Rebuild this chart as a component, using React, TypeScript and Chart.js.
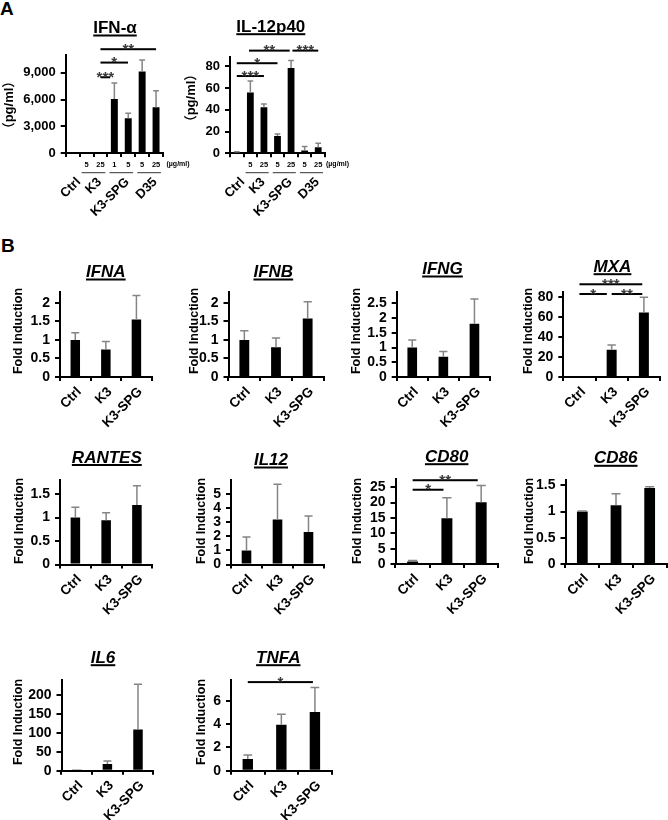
import React, { useEffect, useRef } from 'react';
import { Chart, registerables } from 'chart.js';

Chart.register(...registerables);

const FONT = "'Liberation Sans', Arial, Helvetica, sans-serif";
const CJK_FONT = "'Liberation Sans', 'Noto Sans CJK JP', sans-serif";
Chart.defaults.font.family = FONT;

// ================= DATA =================
type Sig = [number, number, number, string]; // fromIndex, toIndex, yValue, label

// ---- Panel A : IFN-α (pg/ml) ----
const ifnAlphaCategories = ['Ctrl', 'K3 5', 'K3 25', 'K3-SPG 1', 'K3-SPG 5', 'D35 5', 'D35 25'];
const ifnAlphaDoses = ['', '5', '25', '1', '5', '5', '25'];
const ifnAlphaValues = [0, 0, 0, 6050, 3900, 9150, 5130];
const ifnAlphaErrors = [0, 0, 0, 1800, 560, 1300, 1870];
const ifnAlphaTicks = [0, 3000, 6000, 9000];
const ifnAlphaMax = 11000;
const ifnAlphaSig: Sig[] = [[2, 2.7, 8500, '***'], [2, 3.98, 10150, '*'], [2, 6, 11650, '**']];

// ---- Panel A : IL-12p40 (pg/ml) ----
const il12p40Categories = ['Ctrl', 'K3 5', 'K3 25', 'K3-SPG 5', 'K3-SPG 25', 'D35 5', 'D35 25'];
const il12p40Doses = ['', '5', '25', '5', '25', '5', '25'];
const il12p40Values = [1.2, 56, 42.5, 16, 78.5, 2.5, 5.5];
const il12p40Errors = [0.3, 10.5, 3, 1.8, 7, 3.7, 3.7];
const il12p40Ticks = [0, 20, 40, 60, 80];
const il12p40Max = 89;
const il12p40Sig: Sig[] = [[0, 2, 71.2, '***'], [0, 3, 83, '*'], [0.9, 3.9, 94.6, '**'], [4.1, 6, 94.6, '***']];

const groupLabelsA = ['Ctrl', 'K3', 'K3-SPG', 'D35'];
const groupSpansA: [number, number][] = [[0, 0], [1, 2], [3, 4], [5, 6]];

// ---- Panel B : fold induction ----
const categoriesB = ['Ctrl', 'K3', 'K3-SPG'];

const ifnaValues = [1.0, 0.74, 1.55];
const ifnaErrors = [0.19, 0.22, 0.65];
const ifnaTicks = [0, 0.5, 1, 1.5, 2];
const ifnaMax = 2.3;

const ifnbValues = [1.0, 0.8, 1.58];
const ifnbErrors = [0.25, 0.25, 0.45];
const ifnbTicks = [0, 0.5, 1, 1.5, 2];
const ifnbMax = 2.3;

const ifngValues = [1.0, 0.69, 1.81];
const ifngErrors = [0.26, 0.18, 0.84];
const ifngTicks = [0, 0.5, 1, 1.5, 2, 2.5];
const ifngMax = 2.9;

const mxaValues = [1, 27.2, 64.3];
const mxaErrors = [0, 4.8, 15.1];
const mxaTicks = [0, 20, 40, 60, 80];
const mxaMax = 85;
const mxaSig: Sig[] = [[0, 1.95, 92.4, '***'], [0, 0.85, 82.7, '*'], [1, 1.95, 82.7, '**']];

const rantesValues = [1.0, 0.94, 1.27];
const rantesErrors = [0.22, 0.16, 0.41];
const rantesTicks = [0, 0.5, 1, 1.5];
const rantesMax = 1.8;

const il12Values = [1.0, 3.2, 2.3];
const il12Errors = [0.95, 2.5, 1.15];
const il12Ticks = [0, 1, 2, 3, 4, 5];
const il12Max = 6;

const cd80Values = [0.8, 14.9, 20.1];
const cd80Errors = [0.3, 6.7, 5.5];
const cd80Ticks = [0, 5, 10, 15, 20, 25];
const cd80Max = 27.7;
const cd80Sig: Sig[] = [[0, 0.9, 24.2, '*'], [0, 1.9, 27.3, '**']];

const cd86Values = [1.0, 1.12, 1.45];
const cd86Errors = [0.01, 0.22, 0.02];
const cd86Ticks = [0, 0.5, 1, 1.5];
const cd86Max = 1.6;

const il6Values = [1, 17.5, 109];
const il6Errors = [0, 8, 120];
const il6Ticks = [0, 50, 100, 150, 200];
const il6Max = 240;

const tnfaValues = [1.0, 3.95, 5.05];
const tnfaErrors = [0.35, 0.9, 2.1];
const tnfaTicks = [0, 2, 4, 6];
const tnfaMax = 7.8;
const tnfaSig: Sig[] = [[0, 1.94, 7.62, '*']];

// ================= LAYOUT =================
interface Layout {
  left: number; right: number; top: number; bottom: number;
  titleX: number; titleBase: number; yTitleX: number; yTitleY: number;
  canvas: [number, number, number, number];
}

function bLayout(left: number, right: number, top: number, bottom: number, titleX: number, titleBase: number, yTitleX: number, yTitleY: number): Layout {
  return {
    left, right, top, bottom, titleX, titleBase, yTitleX, yTitleY,
    canvas: [Math.max(0, Math.round(left - 62)), Math.round(top - 75), Math.min(668, Math.round(right + 15)), Math.min(820, Math.round(bottom + 62))],
  };
}

interface PanelAExtra {
  doses: string[];
  unitX: number;
}

interface Spec {
  key: string;
  title: string;
  italic: boolean;
  yTitle: string;
  yTitleFont: string;
  labels: string[];
  values: number[];
  errors: number[];
  ticks: number[];
  max: number;
  sig: Sig[];
  barPct: number;
  layout: Layout;
  tickSize: number;
  panelA?: PanelAExtra;
}

const FOLD_FONT = `bold 12.5px ${FONT}`;

const specs: Spec[] = [
  {
    key: 'ifnalpha', title: 'IFN-α', italic: false, yTitle: '（pg/ml）', yTitleFont: `bold 13px ${CJK_FONT}`,
    labels: ifnAlphaCategories, values: ifnAlphaValues, errors: ifnAlphaErrors, ticks: ifnAlphaTicks, max: ifnAlphaMax, sig: ifnAlphaSig,
    barPct: 0.5, tickSize: 13,
    layout: { left: 65.7, right: 163, top: 55, bottom: 153, titleX: 115, titleBase: 33, yTitleX: 9, yTitleY: 105, canvas: [0, 0, 205, 230] },
    panelA: { doses: ifnAlphaDoses, unitX: 166.5 },
  },
  {
    key: 'il12p40', title: 'IL-12p40', italic: false, yTitle: '（pg/ml）', yTitleFont: `bold 13px ${CJK_FONT}`,
    labels: il12p40Categories, values: il12p40Values, errors: il12p40Errors, ticks: il12p40Ticks, max: il12p40Max, sig: il12p40Sig,
    barPct: 0.5, tickSize: 13,
    layout: { left: 230, right: 325, top: 56.7, bottom: 153.3, titleX: 270.8, titleBase: 31.7, yTitleX: 191, yTitleY: 98, canvas: [180, 0, 370, 230] },
    panelA: { doses: il12p40Doses, unitX: 326 },
  },
  { key: 'IFNA', title: 'IFNA', italic: true, yTitle: 'Fold Induction', yTitleFont: FOLD_FONT, labels: categoriesB, values: ifnaValues, errors: ifnaErrors, ticks: ifnaTicks, max: ifnaMax, sig: [], barPct: 0.31, tickSize: 14, layout: bLayout(60, 151.7, 291.7, 377, 105.8, 277, 18.7, 331) },
  { key: 'IFNB', title: 'IFNB', italic: true, yTitle: 'Fold Induction', yTitleFont: FOLD_FONT, labels: categoriesB, values: ifnbValues, errors: ifnbErrors, ticks: ifnbTicks, max: ifnbMax, sig: [], barPct: 0.31, tickSize: 14, layout: bLayout(228.5, 323.5, 291.7, 377, 273.3, 277, 195, 331) },
  { key: 'IFNG', title: 'IFNG', italic: true, yTitle: 'Fold Induction', yTitleFont: FOLD_FONT, labels: categoriesB, values: ifngValues, errors: ifngErrors, ticks: ifngTicks, max: ifngMax, sig: [], barPct: 0.31, tickSize: 14, layout: bLayout(396.7, 490, 291.7, 377, 442.5, 274, 357, 331) },
  { key: 'MXA', title: 'MXA', italic: true, yTitle: 'Fold Induction', yTitleFont: FOLD_FONT, labels: categoriesB, values: mxaValues, errors: mxaErrors, ticks: mxaTicks, max: mxaMax, sig: mxaSig, barPct: 0.31, tickSize: 14, layout: bLayout(563.3, 660, 291.7, 377, 612.5, 271.7, 529, 331) },
  { key: 'RANTES', title: 'RANTES', italic: true, yTitle: 'Fold Induction', yTitleFont: FOLD_FONT, labels: categoriesB, values: rantesValues, errors: rantesErrors, ticks: rantesTicks, max: rantesMax, sig: [], barPct: 0.31, tickSize: 14, layout: bLayout(60, 152.3, 480, 564.5, 106.8, 462.5, 20, 521) },
  { key: 'IL12', title: 'IL12', italic: true, yTitle: 'Fold Induction', yTitleFont: FOLD_FONT, labels: categoriesB, values: il12Values, errors: il12Errors, ticks: il12Ticks, max: il12Max, sig: [], barPct: 0.31, tickSize: 14, layout: bLayout(231, 324, 480, 564.5, 271, 465, 201.7, 521) },
  { key: 'CD80', title: 'CD80', italic: true, yTitle: 'Fold Induction', yTitleFont: FOLD_FONT, labels: categoriesB, values: cd80Values, errors: cd80Errors, ticks: cd80Ticks, max: cd80Max, sig: cd80Sig, barPct: 0.32, tickSize: 14, layout: bLayout(395.5, 498.3, 479, 564, 446.7, 461.7, 358, 521) },
  { key: 'CD86', title: 'CD86', italic: true, yTitle: 'Fold Induction', yTitleFont: FOLD_FONT, labels: categoriesB, values: cd86Values, errors: cd86Errors, ticks: cd86Ticks, max: cd86Max, sig: [], barPct: 0.32, tickSize: 14, layout: bLayout(565.5, 666.5, 480, 564, 615.8, 463.3, 529.7, 521) },
  { key: 'IL6', title: 'IL6', italic: true, yTitle: 'Fold Induction', yTitleFont: FOLD_FONT, labels: categoriesB, values: il6Values, errors: il6Errors, ticks: il6Ticks, max: il6Max, sig: [], barPct: 0.31, tickSize: 14, layout: bLayout(61.5, 153.3, 680, 770.7, 103, 662.7, 18.7, 722) },
  { key: 'TNFA', title: 'TNFA', italic: true, yTitle: 'Fold Induction', yTitleFont: FOLD_FONT, labels: categoriesB, values: tnfaValues, errors: tnfaErrors, ticks: tnfaTicks, max: tnfaMax, sig: tnfaSig, barPct: 0.31, tickSize: 14, layout: bLayout(231, 331.7, 680, 770.7, 278.3, 662.7, 201.7, 722) },
];

// ================= PLUGIN =================
function decorPlugin(s: Spec) {
  const [cL, cT] = s.layout.canvas;
  return {
    id: 'decor_' + s.key,
    afterDatasetsDraw(chart: any) {
      const ctx: CanvasRenderingContext2D = chart.ctx;
      const y = chart.scales.y;
      const meta = chart.getDatasetMeta(0);
      ctx.save();
      ctx.strokeStyle = '#858585';
      ctx.lineWidth = 1.5;
      meta.data.forEach((bar: any, i: number) => {
        const e = s.errors[i];
        if (!e) return;
        const top = y.getPixelForValue(s.values[i] + e);
        const half = bar.width * 0.42;
        ctx.beginPath();
        ctx.moveTo(bar.x, bar.y);
        ctx.lineTo(bar.x, top);
        ctx.moveTo(bar.x - half, top);
        ctx.lineTo(bar.x + half, top);
        ctx.stroke();
      });
      ctx.restore();
    },
    afterDraw(chart: any) {
      const ctx: CanvasRenderingContext2D = chart.ctx;
      const x = chart.scales.x;
      const y = chart.scales.y;
      const L = s.layout;
      ctx.save();
      // title
      ctx.fillStyle = '#000';
      ctx.font = `${s.italic ? 'italic ' : ''}bold 17px ${FONT}`;
      ctx.textAlign = 'center';
      ctx.textBaseline = 'alphabetic';
      const tx = L.titleX - cL;
      const tb = L.titleBase - cT;
      ctx.fillText(s.title, tx, tb);
      const tw = ctx.measureText(s.title).width;
      ctx.fillRect(tx - tw / 2, tb + 1.5, tw, 2);
      // y title
      ctx.save();
      ctx.translate(L.yTitleX - cL, L.yTitleY - cT);
      ctx.rotate(-Math.PI / 2);
      ctx.font = s.yTitleFont;
      ctx.textAlign = 'center';
      ctx.textBaseline = 'middle';
      ctx.fillText(s.yTitle, 0, 0);
      ctx.restore();
      // significance brackets
      s.sig.forEach(([a, b, v, lab]) => {
        const x1 = x.getPixelForValue(a);
        const x2 = x.getPixelForValue(b);
        const yy = y.getPixelForValue(v);
        ctx.fillStyle = '#000';
        ctx.fillRect(x1, yy - 1, x2 - x1, 2);
        ctx.fillStyle = '#3a3a3a';
        ctx.font = `bold 15px ${FONT}`;
        ctx.textAlign = 'center';
        ctx.textBaseline = 'alphabetic';
        ctx.fillText(lab, (x1 + x2) / 2, yy + 4.5);
      });
      // panel A extras
      if (s.panelA) {
        const pa = s.panelA;
        ctx.fillStyle = '#000';
        ctx.font = `bold 7.5px ${FONT}`;
        ctx.textAlign = 'center';
        ctx.textBaseline = 'middle';
        pa.doses.forEach((d, i) => {
          if (d) ctx.fillText(d, x.getPixelForValue(i), 164.5 - cT);
        });
        ctx.font = `bold 7px ${FONT}`;
        ctx.textAlign = 'left';
        ctx.fillText('(µg/ml)', pa.unitX - cL, 164.5 - cT);
        groupSpansA.forEach(([a, b], gi) => {
          if (b > a) {
            const x1 = x.getPixelForValue(a - 0.35);
            const x2 = x.getPixelForValue(b + 0.35);
            ctx.fillStyle = '#333';
            ctx.fillRect(x1, 172.2 - cT, x2 - x1, 1);
          }
          const cx = x.getPixelForValue((a + b) / 2);
          ctx.save();
          ctx.translate(cx + 6, 180 - cT);
          ctx.rotate(-Math.PI / 4);
          ctx.fillStyle = '#000';
          ctx.font = `bold 13px ${FONT}`;
          ctx.textAlign = 'right';
          ctx.textBaseline = 'middle';
          ctx.fillText(groupLabelsA[gi], 0, 0);
          ctx.restore();
        });
      }
      ctx.restore();
    },
  };
}

function buildConfig(s: Spec): any {
  const L = s.layout;
  const [cL, cT, cR, cB] = L.canvas;
  return {
    type: 'bar',
    data: {
      labels: s.labels,
      datasets: [{
        data: s.values,
        backgroundColor: '#000',
        borderWidth: 0,
        barPercentage: s.barPct,
        categoryPercentage: 1,
      }],
    },
    options: {
      responsive: false,
      animation: false,
      devicePixelRatio: 1,
      events: [],
      layout: { padding: { left: 0, top: L.top - cT, right: cR - L.right, bottom: 0 } },
      plugins: { legend: { display: false }, tooltip: { enabled: false }, title: { display: false } },
      scales: {
        x: {
          type: 'category',
          offset: true,
          grid: { display: true, drawOnChartArea: false, drawTicks: true, tickLength: 4, lineWidth: 2, color: '#000', offset: true },
          border: { display: true, color: '#000', width: 2 },
          ticks: s.panelA
            ? { display: false }
            : { display: true, autoSkip: false, maxRotation: 45, minRotation: 45, padding: 3, labelOffset: 4, color: '#000', font: { family: FONT, size: 13.5, weight: 'bold' } },
          afterFit: (sc: any) => { sc.height = cB - L.bottom; sc.paddingLeft = 0; sc.paddingRight = 0; },
        },
        y: {
          type: 'linear',
          min: 0,
          max: s.max,
          grid: { display: true, drawOnChartArea: false, drawTicks: true, tickLength: 5, lineWidth: 2, color: '#000' },
          border: { display: true, color: '#000', width: 2 },
          ticks: {
            autoSkip: false,
            padding: 5,
            color: '#000',
            font: { family: FONT, size: s.tickSize, weight: 'bold' },
            callback: (v: any) => Number(v).toLocaleString('en-US'),
          },
          afterBuildTicks: (sc: any) => { sc.ticks = s.ticks.map((v) => ({ value: v })); },
          afterFit: (sc: any) => { sc.width = L.left - cL; sc.paddingTop = 0; sc.paddingBottom = 0; },
        },
      },
    },
    plugins: [decorPlugin(s)],
  };
}

function BarPanel({ spec }: { spec: Spec }) {
  const ref = useRef<HTMLCanvasElement>(null);
  useEffect(() => {
    if (!ref.current) return;
    const chart = new Chart(ref.current, buildConfig(spec));
    return () => chart.destroy();
  }, [spec]);
  const [cL, cT, cR, cB] = spec.layout.canvas;
  return (
    <canvas
      ref={ref}
      width={cR - cL}
      height={cB - cT}
      style={{ position: 'absolute', left: cL, top: cT, width: cR - cL, height: cB - cT }}
    />
  );
}

const letterStyle: React.CSSProperties = {
  position: 'absolute',
  fontFamily: FONT,
  fontWeight: 'bold',
  fontSize: 19,
  lineHeight: '19px',
  color: '#000',
};

export default function App() {
  return (
    <div style={{ position: 'absolute', left: 0, top: 0, width: 668, height: 820, overflow: 'hidden', background: '#fff' }}>
      <div style={{ ...letterStyle, left: 0, top: -1 }}>A</div>
      <div style={{ ...letterStyle, left: 1, top: 236 }}>B</div>
      {specs.map((s) => <BarPanel key={s.key} spec={s} />)}
    </div>
  );
}
